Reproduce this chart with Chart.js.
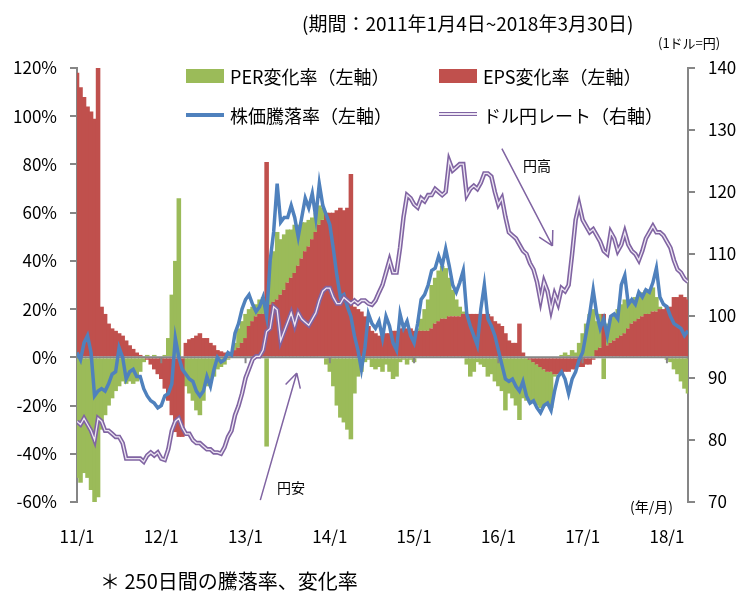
<!DOCTYPE html>
<html lang="ja">
<head>
<meta charset="utf-8">
<script src="https://cdn.jsdelivr.net/npm/chart.js@4.4.1/dist/chart.umd.min.js"></script>
<style>
  body { margin: 0; background: #fff; }
  #wrap { position: relative; width: 741px; height: 592px; font-family: 'Noto Sans CJK JP', 'Noto Sans', sans-serif; color: #000; }
  #wrap canvas { position: absolute; left: 0; top: 0; }
  .t { position: absolute; white-space: nowrap; line-height: 1; }
  .sw { position: absolute; width: 38px; height: 14px; }
  .ln { position: absolute; width: 38px; }
</style>
</head>
<body>
<div id="wrap">
  <canvas id="chart" width="741" height="592"></canvas>

  <div class="t" style="left:302px;top:13px;font-size:19px">(期間：2011年1月4日~2018年3月30日)</div>
  <div class="t" style="left:658px;top:36px;font-size:13px">(1ドル=円)</div>

  <!-- 凡例 -->
  <div class="sw" style="left:186px;top:69px;background:#9BBB59"></div>
  <div class="t" style="left:230px;top:67px;font-size:18px">PER変化率（左軸）</div>
  <div class="sw" style="left:439px;top:69px;background:#C0504D"></div>
  <div class="t" style="left:483px;top:67px;font-size:18px">EPS変化率（左軸）</div>
  <div class="ln" style="left:186px;top:113px;height:4px;background:#4F81BD"></div>
  <div class="t" style="left:230px;top:106px;font-size:18px">株価騰落率（左軸）</div>
  <div class="ln" style="left:439px;top:112px;height:2px;background:#EDE6F3;border-top:1.5px solid #8064A2;border-bottom:1.5px solid #8064A2"></div>
  <div class="t" style="left:483px;top:106px;font-size:18px">ドル円レート（右軸）</div>

  <div class="t" style="left:523px;top:158px;font-size:14px">円高</div>
  <div class="t" style="left:277px;top:480px;font-size:14px">円安</div>
  <div class="t" style="left:630px;top:499px;font-size:14px">(年/月)</div>
  <div class="t" style="left:100px;top:571px;font-size:20px">＊ 250日間の騰落率、変化率</div>
</div>

<script>
// 半月ごとの読み取り値（2011年1月〜2018年3月）
const perChange = [
  -50, -52, -48, -50, -55, -60, -58, -30, -24, -20,
  -17, -14, -12, -10, -11, -10, -11, -10, -6, -2,
  1, 0, 1, 0, 0, 1, 8, 26, 40, 66,
  0, -12, -15, -18, -22, -24, -18, -12, -10, -8,
  -5, -4, -3, -1, 0, 3, 8, 9, 10, 7,
  6, 5, 6, 7, -37, 18, 21, 28, 23, 23,
  22, 20, 20, 17, 15, 12, 11, 9, 8, 8,
  5, -3, -6, -12, -20, -25, -27, -30, -34, -15,
  -8, -6, -2, -1, -4, -5, -4, -6, -3, -6,
  -9, -8, -2, -1, -3, -1, -2, 1, 5, 9,
  13, 18, 19, 21, 22, 21, 16, 11, 7, 4,
  1, -3, -8, -6, -2, -3, -4, -8, -7, -10,
  -12, -14, -22, -15, -17, -20, -26, -17, -18, -18,
  -17, -17, -17, -15, -14, -15, -1, 0, 1, 2,
  1, 3, 2, 6, 10, 14, 18, 20, 12, 14,
  -9, 9, 10, 11, 12, 13, 14, 11, 10, 10,
  10, 10, 10, 10, 10, 6, 1, 0, -1, -2,
  -5, -7, -10, -13, -15
];
const epsChange = [
  118, 112, 108, 104, 102, 99, 120, 21, 18, 14,
  12, 11, 10, 9, 7, 5, 3.5, 2, 1, 0.5,
  -1, -3, -5, -7, -9, -13, -18, -24, -31, -33,
  -33, 6, 7.5, 8, 9, 10, 8, 8, 6, 5,
  3, 2.5, 2, 2, 2, 3, 4, 6, 8, 13,
  15, 17, 18, 18, 81, 22, 23, 24, 26, 28,
  31, 33, 35, 38, 41, 44, 46, 49, 52, 55,
  57, 60, 60, 60, 61, 62, 61, 62, 76, 21,
  20, 19, 17, 13, 11, 10, 9, 9, 10, 10,
  11, 11, 12, 12, 12, 12, 11, 11, 11, 11,
  11, 12, 14, 15, 16, 16, 17, 17, 17, 17,
  18, 18, 18, 18, 18, 18, 18, 18, 17, 15,
  14, 13, 10, 7, 6, 6, 14, 2, 0, -1,
  -2, -3, -4, -5, -6, -6, -7, -7, -7, -6,
  -6, -5, -5, -4, -4, -3, -3, -1, 3, 4,
  18, 5, 6, 7, 8, 9, 10, 12, 14, 15,
  16, 17, 18, 18, 19, 19, 20, 20, 21, 21,
  25, 25, 26, 25, 24
];
const stockChange = [
  2, -1, 6, 9, 2, -16, -14, -13, -14, -11,
  -7, -6, 4, 0, -9, -6, -5, -8, -8, -13,
  -16, -18, -19, -21, -20, -16, -15, -11, 8, 0,
  -5, -7, -9, -10, -14, -16, -14, -8, -12, -5,
  0, -2, -1, 2, 1, 10, 14, 20, 24, 26,
  22, 19, 21, 25, 17, 40, 52, 72, 56, 58,
  58, 63, 58, 50, 58, 66, 62, 68, 58, 72,
  63, 59, 55, 45, 34, 25, 26, 21, 17, 9,
  3, -5, 4, 18, 14, 12, 15, 8, 17, 13,
  6, 3, 18, 12, 15, 9, 6, 14, 24, 26,
  30, 36, 37, 42, 38, 45, 38, 30, 27, 31,
  36, 18, 13, 9, 5, 20, 30, 16, 13, 9,
  3, -3, -9, -10, -9, -12, -14, -10, -16, -19,
  -18, -21, -23, -20, -19, -22, -14, -8, -6, -9,
  -15, -9, -6, -1, 2, 10, 18, 28, 18, 12,
  16, 9, 17, 18, 16, 30, 34, 22, 24, 22,
  27, 25, 28, 27, 31, 37, 25, 22, 21, 17,
  14, 13, 12, 9, 11
];
const usdJpy = [
  83, 82.5, 83.5, 82.5, 81.5, 80, 83.5, 83, 81.5, 81.5,
  81, 80.5, 80.5, 79.5, 77, 77, 77, 77, 77, 76.5,
  77.5, 78, 77.5, 78, 77, 76.8, 78.5, 81.5, 83, 83.5,
  82, 81, 81, 80, 79.5, 79.5, 79, 78.5, 78.5, 78,
  78, 77.8, 78.8, 80.5, 81.5, 84, 85.5, 87.5, 90, 91.5,
  93, 93.5, 93.5, 94.5, 97.5, 98, 101.5, 101, 96, 97.5,
  99, 100.5, 98.5, 100.5, 99.5, 99, 98.5, 99.5, 100.5, 102.5,
  104, 104.5, 104.5, 103, 102, 102, 103, 102.5, 102, 102.5,
  102, 102.5, 102.5, 102, 101.8, 102.5, 103.8, 105, 107, 109,
  107, 107, 111, 116, 119.5, 119, 118, 117.5, 119, 118.5,
  119.5, 119.5, 120.5, 120, 119.5, 120, 125, 123.5, 124, 124.5,
  124.5, 119.5, 120.5, 121, 120.5, 121.5, 123, 123, 122.5, 120,
  118, 119, 116, 113.5, 113, 112.5, 111.5, 110.5, 110, 108.5,
  107.5, 105.5, 102.5, 105.5, 104, 101, 103.5, 102, 104.5, 104,
  105, 110, 115.5, 118, 115.5, 114.5, 113.5, 114, 113, 112,
  110.5, 110, 113.5, 112.5, 110.5, 111.5, 113.5, 111.5, 110.5, 110,
  109, 110.5, 112.5, 113.5, 114.5, 113.5, 113.5, 113, 112, 111,
  109, 107.5, 107, 106, 105.5
];

// 2011年1月からの経過月数（半月刻み）
const months = usdJpy.map((_, i) => i / 2);

const yearTicks = [0, 12, 24, 36, 48, 60, 72, 84];
const yearLabels = ['11/1', '12/1', '13/1', '14/1', '15/1', '16/1', '17/1', '18/1'];
const leftTicks = [-60, -40, -20, 0, 20, 40, 60, 80, 100, 120];
const rightTicks = [70, 80, 90, 100, 110, 120, 130, 140];

// 矢印（月, 円）
const arrows = [
  { from: [60.5, 127.0], to: [67.7, 111.3] },
  { from: [26.1, 70.3], to: [31.3, 90.8] }
];

const AXIS_GRAY = '#868686';

// 0%の横軸と年の目盛り
const zeroLine = {
  id: 'zeroLine',
  afterDatasetDraw(chart, args) {
    if (args.index !== 3) return;
    const { ctx, chartArea, scales } = chart;
    const y0 = scales.y.getPixelForValue(0);
    ctx.save();
    ctx.strokeStyle = AXIS_GRAY;
    ctx.lineWidth = 2;
    ctx.beginPath();
    ctx.moveTo(chartArea.left, y0);
    ctx.lineTo(chartArea.right, y0);
    yearTicks.slice(1).forEach(m => {
      const x = scales.x.getPixelForValue(m);
      ctx.moveTo(x, y0);
      ctx.lineTo(x, y0 + 6);
    });
    ctx.stroke();
    ctx.restore();
  }
};

const arrowPlugin = {
  id: 'arrowPlugin',
  afterDatasetsDraw(chart) {
    const { ctx, scales } = chart;
    ctx.save();
    ctx.strokeStyle = '#8064A2';
    ctx.lineWidth = 1.5;
    arrows.forEach(a => {
      const x1 = scales.x.getPixelForValue(a.from[0]);
      const y1 = scales.yR.getPixelForValue(a.from[1]);
      const x2 = scales.x.getPixelForValue(a.to[0]);
      const y2 = scales.yR.getPixelForValue(a.to[1]);
      const ang = Math.atan2(y2 - y1, x2 - x1);
      ctx.beginPath();
      ctx.moveTo(x1, y1);
      ctx.lineTo(x2, y2);
      [0.5, -0.5].forEach(d => {
        ctx.moveTo(x2, y2);
        ctx.lineTo(x2 - 16 * Math.cos(ang + d), y2 - 16 * Math.sin(ang + d));
      });
      ctx.stroke();
    });
    ctx.restore();
  }
};

Chart.defaults.font.family = "'Noto Sans CJK JP', 'Noto Sans', sans-serif";
Chart.defaults.color = '#000';

// 隙間が出ないよう棒を少し重ねる
const barStyle = { borderWidth: 0, barPercentage: 1.3, categoryPercentage: 1, inflateAmount: 0 };

new Chart(document.getElementById('chart'), {
  type: 'bar',
  data: {
    labels: months,
    datasets: [
      {
        type: 'line', label: 'ドル円レート（右軸）', data: usdJpy, yAxisID: 'yR',
        borderColor: '#EDE6F3', borderWidth: 1.3, pointRadius: 0, tension: 0, order: 0
      },
      {
        type: 'line', label: 'ドル円レート枠', data: usdJpy, yAxisID: 'yR',
        borderColor: '#8064A2', borderWidth: 4.5, pointRadius: 0, tension: 0, order: 1
      },
      {
        type: 'line', label: '株価騰落率（左軸）', data: stockChange, yAxisID: 'y',
        borderColor: '#4F81BD', borderWidth: 3.5, pointRadius: 0, tension: 0, order: 2
      },
      {
        label: 'EPS変化率（左軸）', data: epsChange, yAxisID: 'y', stack: 'fund',
        backgroundColor: '#C0504D', order: 3, ...barStyle
      },
      {
        label: 'PER変化率（左軸）', data: perChange, yAxisID: 'y', stack: 'fund',
        backgroundColor: '#9BBB59', order: 4, ...barStyle
      }
    ]
  },
  options: {
    responsive: false,
    devicePixelRatio: 1,
    animation: false,
    events: [],
    layout: { padding: { top: 68, left: 0, right: 0, bottom: 0 } },
    plugins: { legend: { display: false }, tooltip: { enabled: false } },
    scales: {
      x: {
        type: 'linear', min: 0, max: 87, offset: false,
        grid: { display: false, drawTicks: false },
        border: { display: false },
        afterBuildTicks: s => { s.ticks = yearTicks.map(v => ({ value: v })); },
        ticks: {
          callback: (v, i) => yearLabels[i],
          font: { size: 17 }, padding: 24, maxRotation: 0, autoSkip: false
        },
        afterFit: s => { s.height = 90; }
      },
      y: {
        position: 'left', min: -60, max: 120,
        afterBuildTicks: s => { s.ticks = leftTicks.map(v => ({ value: v })); },
        ticks: { callback: v => v + '%', font: { size: 17 }, padding: 13 },
        grid: { drawOnChartArea: false, tickLength: 7, color: AXIS_GRAY, lineWidth: 2 },
        border: { color: AXIS_GRAY, width: 2 },
        afterFit: s => { s.width = 77; }
      },
      yR: {
        position: 'right', min: 70, max: 140,
        afterBuildTicks: s => { s.ticks = rightTicks.map(v => ({ value: v })); },
        ticks: { font: { size: 17 }, padding: 13 },
        grid: { drawOnChartArea: false, tickLength: 7, color: AXIS_GRAY, lineWidth: 2 },
        border: { color: AXIS_GRAY, width: 2 },
        afterFit: s => { s.width = 53; }
      }
    }
  },
  plugins: [zeroLine, arrowPlugin]
});
</script>
</body>
</html>
